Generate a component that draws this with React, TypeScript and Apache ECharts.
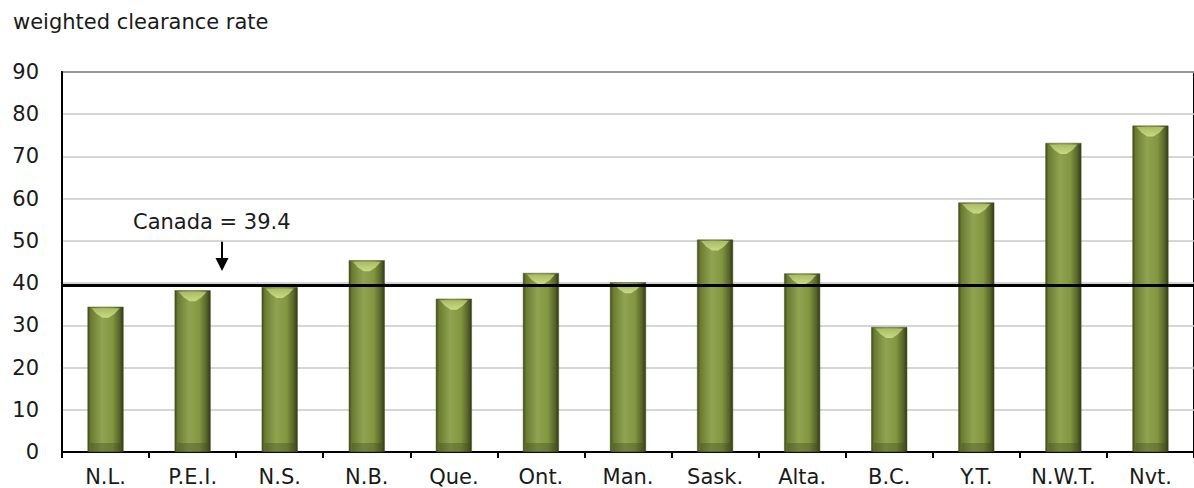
import React, { useEffect, useRef } from "react";
import * as echarts from "echarts";

const categories = ["N.L.", "P.E.I.", "N.S.", "N.B.", "Que.", "Ont.", "Man.", "Sask.", "Alta.", "B.C.", "Y.T.", "N.W.T.", "Nvt."];
const clearanceRates = [34.4, 38.3, 39.1, 45.4, 36.3, 42.4, 40.2, 50.3, 42.3, 29.6, 59.1, 73.2, 77.3];
const canadaRate = 39.4;
const yTicks = { min: 0, max: 90, interval: 10 };
const yTitle = "weighted clearance rate";
const annotationText = "Canada = 39.4";

const FONT = "DejaVu Sans, Verdana, sans-serif";
const FS = 21;

export default function App() {
  const ref = useRef<HTMLDivElement>(null);
  useEffect(() => {
    if (!ref.current) return;
    const chart = echarts.init(ref.current, null, { renderer: "svg" });
    const barGradient = new echarts.graphic.LinearGradient(0, 0, 1, 0, [
      { offset: 0, color: "#3e4a18" },
      { offset: 0.08, color: "#6a7b32" },
      { offset: 0.4, color: "#90a351" },
      { offset: 0.7, color: "#82953f" },
      { offset: 0.9, color: "#55632a" },
      { offset: 1, color: "#2f3912" },
    ]);
    chart.setOption({
      animation: false,
      textStyle: { fontFamily: FONT },
      grid: {
        left: 62,
        top: 72,
        bottom: 36,
        right: -10,
        show: true,
        borderColor: "#000",
        borderWidth: 2,
        backgroundColor: "transparent",
      },
      graphic: [
        {
          type: "text",
          left: 13,
          top: 11,
          style: { text: yTitle, font: `${FS}px ${FONT}`, fill: "#1a1a1a" },
        },
        {
          type: "text",
          left: 133,
          top: 211,
          style: { text: annotationText, font: `${FS}px ${FONT}`, fill: "#1a1a1a" },
        },
        {
          type: "line",
          shape: { x1: 222, y1: 241, x2: 222, y2: 260 },
          style: { stroke: "#000", lineWidth: 2 },
        },
        {
          type: "polygon",
          shape: { points: [[215.5, 258], [228.5, 258], [222, 271]] },
          style: { fill: "#000" },
        },
      ],
      xAxis: {
        type: "category",
        data: categories,
        boundaryGap: true,
        axisLine: { show: true, lineStyle: { color: "#000", width: 2 } },
        axisTick: { show: true, length: 6, lineStyle: { color: "#000", width: 2 }, alignWithLabel: false },
        axisLabel: { color: "#1a1a1a", fontSize: FS, fontFamily: FONT, margin: 14 },
        splitLine: { show: false },
      },
      yAxis: {
        type: "value",
        min: yTicks.min,
        max: yTicks.max,
        interval: yTicks.interval,
        axisLine: { show: true, lineStyle: { color: "#000", width: 2 } },
        axisTick: { show: false },
        axisLabel: { color: "#1a1a1a", fontSize: FS, fontFamily: FONT, margin: 23 },
        splitLine: { show: true, lineStyle: { color: "#c8c8c8", width: 1.6 } },
      },
      series: [
        {
          type: "bar",
          data: clearanceRates,
          barWidth: 36,
          itemStyle: { color: barGradient, borderColor: "#4a5522", borderWidth: 0.5 },
          z: 2,
          markLine: {
            silent: true,
            symbol: ["none", "none"],
            label: { show: false },
            lineStyle: { color: "#000", width: 3, type: "solid" },
            data: [{ yAxis: canadaRate }],
            z: 5,
          },
        },
        {
          type: "custom",
          data: clearanceRates.map((v, i) => [i, v]),
          z: 3,
          silent: true,
          renderItem: (params: any, api: any) => {
            const idx = api.value(0);
            const val = api.value(1);
            const top = api.coord([idx, val]);
            const bottom = api.coord([idx, 0]);
            const w = 36;
            const cx = top[0];
            const ty = top[1];
            const by = bottom[1];
            return {
              type: "group",
              children: [
                {
                  type: "polygon",
                  shape: {
                    points: [
                      [cx - w / 2 + 4, ty + 1.5],
                      [cx + w / 2 - 4, ty + 1.5],
                      [cx + w / 4, ty + 7],
                      [cx + 3, ty + 11],
                      [cx - 3, ty + 11],
                      [cx - w / 4, ty + 7],
                    ],
                  },
                  style: {
                    fill: new echarts.graphic.LinearGradient(0, 0, 0, 1, [
                      { offset: 0, color: "#a9bb63" },
                      { offset: 1, color: "#c9da86" },
                    ]),
                  },
                },
                {
                  type: "rect",
                  shape: { x: cx - w / 2 + 3, y: by - 9, width: w - 6, height: 8 },
                  style: { fill: "rgba(60,72,25,0.35)" },
                },
              ],
            };
          },
        },
      ],
    });
    return () => chart.dispose();
  }, []);
  return (
    <div
      ref={ref}
      style={{ position: "fixed", left: 0, top: 0, width: 1194, height: 488, background: "#fff" }}
    />
  );
}
